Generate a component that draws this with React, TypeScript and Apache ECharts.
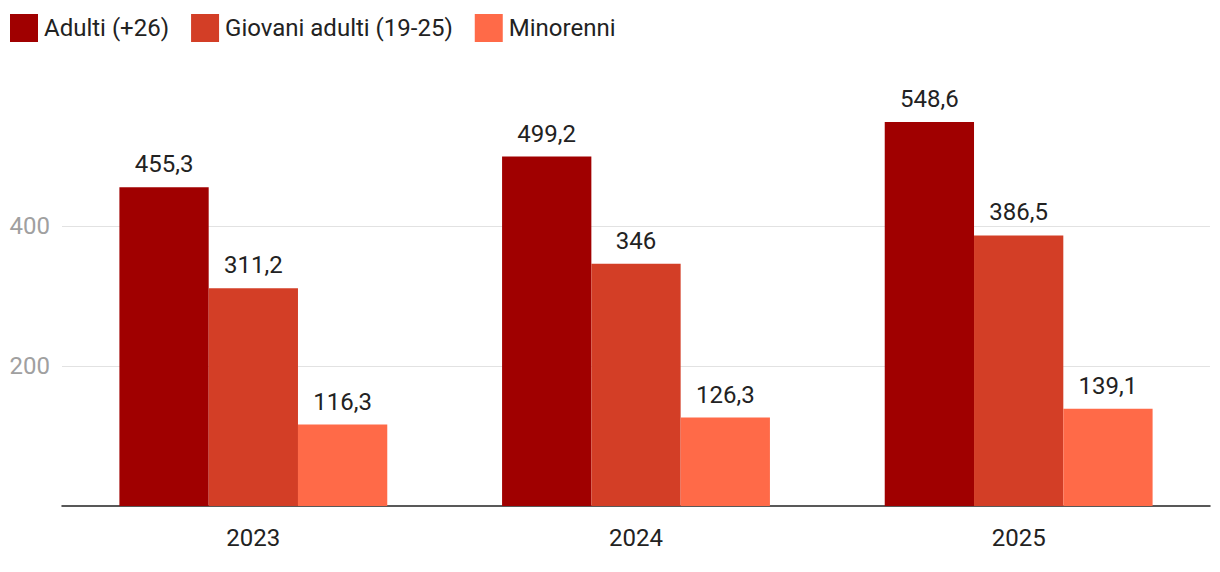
import React, { useEffect, useRef } from "react";
import * as echarts from "echarts";

const categories = ["2023", "2024", "2025"];
const seriesNames = ["Adulti (+26)", "Giovani adulti (19-25)", "Minorenni"];
const adulti = [455.3, 499.2, 548.6];
const giovani = [311.2, 346, 386.5];
const minorenni = [116.3, 126.3, 139.1];
const colors = ["#A00000", "#D33E26", "#FF6A48"];

const fmt = (v: number) => String(v).replace(".", ",");

export default function App() {
  const ref = useRef<HTMLDivElement>(null);
  useEffect(() => {
    if (!ref.current) return;
    const chart = echarts.init(ref.current, undefined, { renderer: "svg" });
    const data = [adulti, giovani, minorenni];
    chart.setOption({
      animation: false,
      textStyle: { fontFamily: "Roboto" },
      legend: {
        left: 10,
        top: 14,
        padding: 0,
        itemWidth: 28,
        itemHeight: 28,
        itemGap: 22,
        icon: "rect",
        textStyle: { fontSize: 24, color: "#222", fontFamily: "Roboto", padding: [0, 0, 0, 1] },
        data: seriesNames,
      },
      grid: { left: 62, right: 10, top: 86, bottom: 66, containLabel: false },
      xAxis: {
        type: "category",
        data: categories,
        axisLine: { lineStyle: { color: "#222", width: 1.5 } },
        axisTick: { alignWithLabel: true, length: 9, lineStyle: { color: "#222", width: 1.5 } },
        axisLabel: { fontSize: 24, color: "#222", margin: 20, fontFamily: "Roboto" },
      },
      yAxis: {
        type: "value",
        min: 0,
        max: 600,
        interval: 200,
        axisLine: { show: false },
        axisTick: { show: false },
        axisLabel: {
          fontSize: 24,
          color: "#A0A0A0",
          margin: 12,
          showMinLabel: false,
          showMaxLabel: false,
          fontFamily: "Roboto",
        },
        splitLine: { lineStyle: { color: "#E2E2E2", width: 1 }, showMinLine: false, showMaxLine: false },
      },
      series: seriesNames.map((name, i) => ({
        name,
        type: "bar",
        data: data[i],
        barGap: "0%",
        barCategoryGap: "30%",
        itemStyle: { color: colors[i] },
        label: {
          show: true,
          position: "top",
          distance: 11,
          fontSize: 24,
          color: "#222",
          fontFamily: "Roboto",
          formatter: (p: any) => fmt(p.value),
        },
      })),
    });
    return () => chart.dispose();
  }, []);
  return <div ref={ref} style={{ width: 1220, height: 572, position: "absolute", left: 0, top: 0 }} />;
}
